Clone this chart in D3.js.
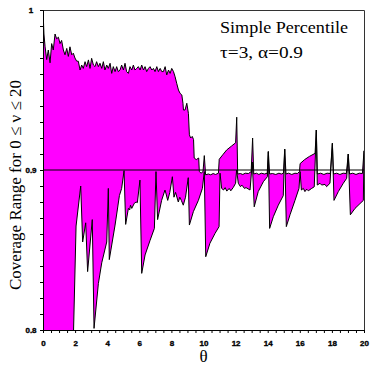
<!DOCTYPE html>
<html>
<head>
<meta charset="utf-8">
<script src="https://cdn.jsdelivr.net/npm/d3@7"></script>
<style>
body { margin: 0; background: #fff; }
</style>
</head>
<body>
<svg id="chart" width="370" height="368"></svg>
<script>
// upper and lower bounds of the coverage range, [theta, coverage]
var upper = [[0,1.0],[0.06,0.985],[0.13,0.977],[0.23,0.969],[0.33,0.975],[0.44,0.967],[0.54,0.979],[0.64,0.975],[0.75,0.985],[0.85,0.982],
    [0.96,0.983],[1.06,0.979],[1.16,0.981],[1.27,0.975],[1.37,0.972],[1.48,0.976],[1.58,0.971],[1.68,0.977],[1.79,0.972],[1.89,0.973],
    [1.99,0.970],[2.1,0.968],[2.2,0.968],[2.31,0.9625],[2.41,0.9656],[2.51,0.9635],[2.62,0.9677],[2.72,0.9646],[2.83,0.9688],[2.93,0.9635],
    [3.03,0.9698],[3.14,0.9656],[3.24,0.9646],[3.34,0.9677],[3.45,0.9646],[3.55,0.9667],[3.66,0.9635],[3.76,0.9677],[3.86,0.9625],[3.97,0.9656],
    [4.07,0.9635],[4.18,0.9667],[4.28,0.9604],[4.38,0.9646],[4.49,0.9615],[4.59,0.9646],[4.69,0.9615],[4.8,0.9625],[4.9,0.9656],[5.01,0.9625],
    [5.11,0.9667],[5.21,0.9615],[5.32,0.9604],[5.42,0.9646],[5.53,0.9625],[5.63,0.9656],[5.73,0.9625],[5.84,0.9635],[5.94,0.9646],[6.05,0.9625],
    [6.15,0.9656],[6.26,0.9625],[6.36,0.9646],[6.46,0.9615],[6.57,0.9635],[6.67,0.9646],[6.78,0.9625],[6.88,0.9635],[6.98,0.9615],[7.09,0.9646],
    [7.19,0.9615],[7.3,0.9635],[7.4,0.9615],[7.5,0.9615],[7.61,0.9646],[7.71,0.9594],[7.82,0.9625],[7.92,0.9604],[8.02,0.9635],[8.13,0.9615],
    [8.23,0.9583],[8.33,0.9542],[8.44,0.95],[8.54,0.9479],[8.65,0.9469],[8.72,0.9417],[8.75,0.9375],[8.85,0.9375],[8.96,0.9417],[9.06,0.9354],
    [9.12,0.922],[9.2,0.920],[9.3,0.921],[9.38,0.919],[9.42,0.9075],[9.55,0.9065],[9.7,0.9075],[9.74,0.899],[9.85,0.898],[9.97,0.899],
    [10.05,0.909],[10.13,0.897],[10.3,0.8975],[10.45,0.897],[10.6,0.8978],[10.75,0.8972],[10.93,0.898],[10.98,0.9067],[11.2,0.9095],[11.44,0.9125],
    [11.75,0.915],[12.0,0.917],[12.07,0.933],[12.13,0.8975],[12.3,0.8978],[12.45,0.8972],[12.6,0.898],[12.8,0.8978],[12.97,0.899],[13.06,0.920],
    [13.13,0.8975],[13.3,0.898],[13.45,0.8972],[13.6,0.898],[13.8,0.8975],[13.97,0.898],[14.04,0.9115],[14.12,0.8975],[14.3,0.8978],[14.5,0.8972],
    [14.7,0.898],[14.85,0.8975],[14.98,0.898],[15.06,0.913],[15.14,0.8975],[15.3,0.898],[15.5,0.8972],[15.7,0.898],[15.85,0.8978],[15.98,0.899],
    [16.02,0.904],[16.3,0.9065],[16.6,0.9085],[16.95,0.9104],[17.03,0.925],[17.09,0.8975],[17.3,0.898],[17.5,0.8972],[17.7,0.898],[17.9,0.8978],
    [18.03,0.9167],[18.1,0.8975],[18.3,0.898],[18.5,0.8972],[18.7,0.898],[18.9,0.8978],[19.02,0.910],[19.1,0.8975],[19.3,0.898],[19.5,0.8972],
    [19.7,0.898],[19.9,0.8978],[20,0.912]];

var lower = [[0,0.75],[1.88,0.79],[2.06,0.865],[2.35,0.890],[2.47,0.855],[2.66,0.867],[2.78,0.8365],[3.07,0.869],[3.18,0.801],[3.45,0.829],
    [3.66,0.842],[3.97,0.855],[4.07,0.8885],[4.13,0.844],[4.49,0.8656],[4.63,0.875],[4.76,0.884],[4.9,0.8885],[5.05,0.8996],[5.15,0.866],
    [5.32,0.876],[5.4,0.875],[5.45,0.878],[5.53,0.876],[5.69,0.8792],[5.8,0.880],[5.88,0.8796],[6.04,0.8937],[6.15,0.8354],[6.36,0.8469],
    [6.67,0.856],[6.94,0.8635],[7.04,0.899],[7.14,0.869],[7.39,0.881],[7.6,0.8875],[7.67,0.885],[7.77,0.881],[7.9,0.886],[8.06,0.8958],
    [8.16,0.883],[8.26,0.886],[8.43,0.880],[8.52,0.883],[8.62,0.881],[8.74,0.878],[8.88,0.883],[9.05,0.8952],[9.12,0.8656],[9.37,0.874],
    [9.68,0.881],[9.93,0.8885],[10.05,0.899],[10.14,0.8458],[10.4,0.8542],[10.72,0.8604],[10.97,0.8646],[11.03,0.898],[11.13,0.8885],[11.25,0.8875],
    [11.35,0.889],[11.45,0.8868],[11.6,0.8885],[11.7,0.887],[11.85,0.889],[12.0,0.8917],[12.06,0.9],[12.17,0.8917],[12.3,0.8896],[12.4,0.8905],
    [12.55,0.8885],[12.65,0.889],[12.9,0.8875],[13.04,0.905],[13.16,0.877],[13.41,0.8865],[13.73,0.8927],[13.98,0.8958],[14.04,0.9115],[14.12,0.8635],
    [14.35,0.8708],[14.66,0.878],[14.97,0.884],[15.06,0.913],[15.16,0.8646],[15.39,0.872],[15.7,0.881],[15.95,0.8885],[16.02,0.899],[16.1,0.8875],
    [16.22,0.8885],[16.32,0.8865],[16.43,0.888],[16.53,0.887],[16.74,0.8885],[16.9,0.8895],[17.03,0.925],[17.09,0.8906],[17.26,0.8917],[17.36,0.8906],
    [17.57,0.891],[17.67,0.8896],[17.88,0.8917],[18.03,0.9167],[18.13,0.881],[18.4,0.8865],[18.71,0.8917],[18.92,0.8948],[19.02,0.910],[19.15,0.872],
    [19.44,0.876],[19.75,0.879],[19.96,0.881],[20,0.912]];

var xLabels = [0, 2, 4, 6, 8, 10, 12, 14, 16, 18, 20];
var yLabels = [0.8, 0.9, 1];
var refLevel = 0.9;
var note1 = "Simple Percentile";
var note2 = "\u03c4=3, \u03b1=0.9";
var xTitle = "\u03b8";
var yTitle = "Coverage Range for 0 \u2264 \u03bd \u2264 20";

var margin = {top: 10, right: 6, bottom: 38, left: 43};
var W = 370, H = 368;
var serif = "Liberation Serif, Times New Roman, serif";

var svg = d3.select("#chart");

var x = d3.scaleLinear().domain([0, 20]).range([margin.left, W - margin.right]);
var y = d3.scaleLinear().domain([0.8, 1]).range([H - margin.bottom, margin.top]);

svg.append("clipPath").attr("id", "plotclip")
    .append("rect")
    .attr("x", x(0)).attr("y", y(1))
    .attr("width", x(20) - x(0)).attr("height", y(0.8) - y(1));

var plot = svg.append("g").attr("clip-path", "url(#plotclip)");

var line = d3.line().x(function(d) { return x(d[0]); }).y(function(d) { return y(d[1]); });

// band between the two curves
var band = upper.concat(lower.slice().reverse());
plot.append("path")
    .attr("d", line(band) + "Z")
    .attr("fill", "#ff00ff")
    .attr("stroke", "none");

plot.append("path").attr("d", line(upper))
    .attr("fill", "none").attr("stroke", "#000").attr("stroke-width", 1);
plot.append("path").attr("d", line(lower))
    .attr("fill", "none").attr("stroke", "#000").attr("stroke-width", 1);

plot.append("line")
    .attr("x1", x(0)).attr("x2", x(20))
    .attr("y1", y(refLevel)).attr("y2", y(refLevel))
    .attr("stroke", "#000").attr("stroke-width", 1);

// frame (top, right)
svg.append("path")
    .attr("d", "M" + x(0) + "," + (y(1) + 0.5) + "H" + (x(20) + 0.5) + "V" + y(0.8))
    .attr("fill", "none").attr("stroke", "#333").attr("stroke-width", 1);

// axes
var minorX = d3.range(0, 20.001, 0.5);
var minorY = d3.range(0, 21).map(function(i) { return 0.8 + i * 0.01; });

var xAxis = svg.append("g")
    .attr("transform", "translate(0," + y(0.8) + ")")
    .call(d3.axisBottom(x).tickValues(minorX).tickSize(3).tickPadding(7)
        .tickFormat(function(d) { return xLabels.indexOf(d) >= 0 ? d : ""; }));

var yAxis = svg.append("g")
    .attr("transform", "translate(" + x(0) + ",0)")
    .call(d3.axisLeft(y).tickValues(minorY).tickSize(3).tickPadding(9)
        .tickFormat(function(d) {
            var hit = yLabels.filter(function(v) { return Math.abs(v - d) < 1e-6; });
            return hit.length ? (hit[0] === 1 ? "1" : hit[0].toFixed(1)) : "";
        }));

[xAxis, yAxis].forEach(function(g) {
    g.select(".domain").attr("stroke", "#000");
    g.selectAll(".tick line").attr("stroke", "#000");
    g.selectAll("text")
        .attr("font-family", "Liberation Sans, Arial, sans-serif")
        .attr("font-weight", "bold")
        .attr("font-size", 8)
        .attr("fill", "#000")
        .attr("stroke", "#000")
        .attr("stroke-width", 0.35);
});
yAxis.selectAll("text").attr("text-anchor", "middle").attr("x", -12);

// titles
svg.append("text")
    .attr("transform", "translate(20.5," + (y(0.9) + 15) + ") rotate(-90)")
    .attr("text-anchor", "middle")
    .attr("font-family", serif)
    .attr("font-size", 17)
    .text(yTitle);

svg.append("text")
    .attr("x", (x(0) + x(20)) / 2).attr("y", 362)
    .attr("text-anchor", "middle")
    .attr("font-family", serif)
    .attr("font-size", 17)
    .text(xTitle);

svg.append("text")
    .attr("x", 220).attr("y", 33)
    .attr("font-family", serif)
    .attr("font-size", 16)
    .attr("textLength", 128)
    .attr("lengthAdjust", "spacingAndGlyphs")
    .text(note1);
svg.append("text")
    .attr("x", 220).attr("y", 58)
    .attr("font-family", serif)
    .attr("font-size", 16)
    .attr("textLength", 83)
    .attr("lengthAdjust", "spacingAndGlyphs")
    .text(note2);
</script>
</body>
</html>
